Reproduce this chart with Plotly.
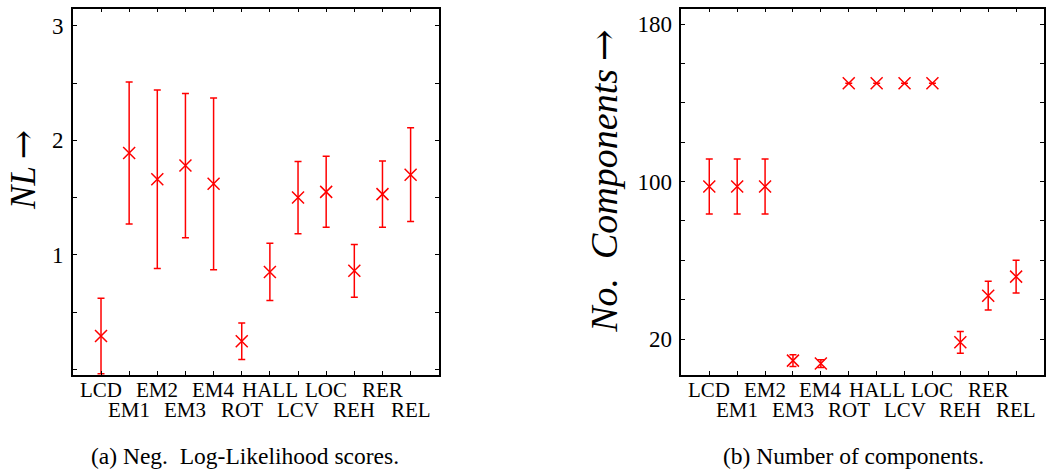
import plotly.graph_objects as go

# Methods compared in both panels
methods = ["LCD", "EM1", "EM2", "EM3", "EM4", "ROT", "HALL", "LCV", "LOC", "REH", "RER", "REL"]

# (a) negative log-likelihood: mean and half-width of the error bar
nl_mean = [0.29, 1.89, 1.66, 1.78, 1.62, 0.245, 0.85, 1.50, 1.55, 0.86, 1.53, 1.70]
nl_err = [0.33, 0.62, 0.78, 0.63, 0.75, 0.16, 0.25, 0.315, 0.31, 0.23, 0.29, 0.41]

# (b) number of mixture components: mean and half-width of the error bar
nc_mean = [97.5, 97.5, 97.5, 9.0, 7.5, 150.0, 150.0, 150.0, 150.0, 18.3, 42.0, 51.7]
nc_err = [14.0, 14.0, 14.0, 3.0, 2.0, 0.0, 0.0, 0.0, 0.0, 5.5, 7.3, 8.3]

nl_ticks = [0, 0.5, 1, 1.5, 2, 2.5, 3]
nl_ticklabels = ["", "", "1", "", "2", "", "3"]
nc_ticks = [20, 40, 60, 80, 100, 120, 140, 160, 180]
nc_ticklabels = ["20", "", "", "", "100", "", "", "", "180"]

captions = ["(a) Neg.&nbsp; Log-Likelihood scores.", "(b) Number of components."]

W, H = 1046, 472
FONT = "Liberation Serif"
RED = "#ff0000"
ARROW = '\u2009<span style="font-family:DejaVu Serif">→</span>'

xpos = list(range(1, len(methods) + 1))

fig = go.Figure()


def add_panel(mean, err, xa, ya):
    fig.add_trace(go.Scatter(
        x=xpos, y=mean, mode="markers", xaxis=xa, yaxis=ya,
        marker=dict(symbol="x-thin", size=12, color=RED,
                    line=dict(width=1.5, color=RED)),
        error_y=dict(type="data", array=err, visible=True,
                     color=RED, thickness=1.5, width=3.5),
        showlegend=False, cliponaxis=True,
    ))


add_panel(nl_mean, nl_err, "x", "y")
add_panel(nc_mean, nc_err, "x2", "y2")

y_dom = [97 / H, 463.3 / H]
axis_common = dict(
    showline=True, linecolor="black", linewidth=1.5, mirror="ticks",
    ticks="inside", ticklen=4, tickwidth=1, tickcolor="black",
    showgrid=False, zeroline=False,
)

fig.update_layout(
    width=W, height=H,
    margin=dict(l=0, r=0, t=0, b=0),
    paper_bgcolor="white", plot_bgcolor="white",
    font=dict(family=FONT, color="black"),
    xaxis=dict(domain=[73 / W, 439.6 / W], range=[0, 13],
               tickvals=xpos, ticktext=[""] * len(xpos), anchor="y",
               **axis_common),
    yaxis=dict(domain=y_dom, range=[-0.05, 3.15], anchor="x",
               tickvals=nl_ticks, ticktext=nl_ticklabels,
               tickfont=dict(size=23, family=FONT), ticklabelstandoff=3,
               **axis_common),
    xaxis2=dict(domain=[682.7 / W, 1.0], range=[0, 13],
                tickvals=xpos, ticktext=[""] * len(xpos), anchor="y2",
                **axis_common),
    yaxis2=dict(domain=y_dom, range=[1.7, 187.9], anchor="x2",
                tickvals=nc_ticks, ticktext=nc_ticklabels,
                tickfont=dict(size=23, family=FONT), ticklabelstandoff=3,
                **axis_common),
)

# Staggered category labels under each panel
for xref in ("x", "x2"):
    for i, name in enumerate(methods):
        fig.add_annotation(
            x=xpos[i], y=y_dom[0], xref=xref, yref="paper",
            text=name, showarrow=False, xanchor="center", yanchor="middle",
            yshift=-15 if i % 2 == 0 else -35,
            font=dict(size=21, family=FONT, color="black"),
        )

# Rotated y-axis titles
fig.add_annotation(
    x=23 / W, y=1 - 170 / H, xref="paper", yref="paper",
    text="<i>NL</i>" + ARROW, textangle=-90, showarrow=False,
    xanchor="center", yanchor="middle",
    font=dict(size=35, family=FONT, color="black"),
)
fig.add_annotation(
    x=605 / W, y=1 - 181 / H, xref="paper", yref="paper",
    text="<i>No.&nbsp; Components</i>" + ARROW, textangle=-90, showarrow=False,
    xanchor="center", yanchor="middle",
    font=dict(size=38, family=FONT, color="black"),
)

# Sub-figure captions
for cx, cap in zip((245, 855), captions):
    fig.add_annotation(
        x=cx / W, y=1 - 456 / H, xref="paper", yref="paper",
        text=cap, showarrow=False, xanchor="center", yanchor="middle",
        font=dict(size=23.5, family=FONT, color="black"),
    )

fig.write_html("out.html")
